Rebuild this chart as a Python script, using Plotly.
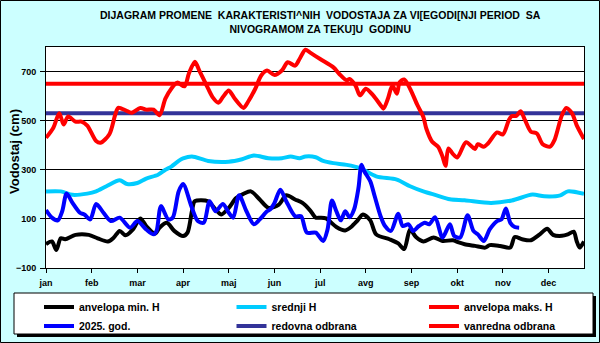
import plotly.graph_objects as go

# ---------------- data (day of year 0..365, water level in cm) ----------------
months = ["jan", "feb", "mar", "apr", "maj", "jun", "jul", "avg", "sep", "okt", "nov", "dec"]
month_ticks = [0, 31, 62, 93, 124, 155, 186, 217, 248, 279, 310, 341]

max_days = [0, 5, 9, 12, 15, 20, 24, 28, 34, 37, 43, 47, 49, 54, 58, 64, 68, 73, 77, 81, 85, 89,
            94, 97, 101, 104, 109, 113, 117, 120, 124, 128, 134, 137, 142, 146, 150, 155, 160,
            164, 169, 172, 176, 179, 186, 195, 199, 204, 206, 210, 213, 217, 222, 227, 229, 232,
            235, 238, 240, 243, 247, 252, 256, 258, 262, 266, 269, 271, 273, 276, 279, 285, 291,
            293, 297, 300, 306, 310, 314, 316, 319, 322, 325, 329, 333, 337, 342, 345, 350, 353,
            357, 360, 365]
max_vals = [430, 471, 530, 484, 517, 496, 496, 480, 417, 410, 445, 525, 552, 542, 532, 552, 545,
            545, 522, 590, 630, 655, 640, 693, 740, 704, 643, 596, 573, 596, 623, 590, 552, 576,
            630, 684, 704, 686, 704, 738, 724, 751, 789, 778, 751, 717, 690, 664, 670, 643, 603,
            630, 603, 563, 549, 590, 643, 610, 657, 668, 630, 563, 515, 468, 414, 394, 354, 316,
            387, 365, 350, 412, 385, 404, 394, 408, 452, 444, 502, 519, 519, 538, 502, 455, 448,
            404, 394, 421, 522, 552, 529, 482, 425]

mean_days = [0, 10, 18, 28, 34, 41, 50, 55, 62, 68, 76, 81, 85, 90, 93, 99, 110, 124, 133, 141,
             151, 160, 166, 172, 176, 183, 188, 195, 204, 213, 224, 238, 247, 256, 265, 274, 284,
             302, 316, 330, 338, 349, 354, 365]
mean_vals = [212, 212, 198, 203, 212, 233, 257, 242, 246, 264, 280, 300, 313, 336, 346, 354, 336,
             333, 343, 358, 347, 347, 354, 347, 354, 351, 336, 327, 320, 307, 273, 260, 233, 212,
             196, 180, 176, 165, 175, 199, 192, 196, 212, 202]

min_days = [0, 4, 7, 10, 13, 20, 29, 35, 42, 46, 50, 54, 59, 64, 68, 74, 77, 82, 87, 93, 96, 99,
            101, 110, 115, 119, 124, 129, 134, 139, 145, 151, 158, 163, 169, 174, 179, 183, 186,
            190, 197, 203, 207, 211, 215, 220, 224, 233, 239, 243, 247, 251, 256, 263, 269, 276,
            280, 284, 291, 298, 301, 308, 315, 318, 323, 329, 335, 340, 344, 350, 354, 358, 360,
            362, 365]
min_vals = [-3, 8, -27, 21, 17, 35, 35, 21, 8, 24, 51, 33, 57, 102, 71, 40, 64, 84, 51, 30, 44,
            131, 172, 172, 138, 118, 145, 185, 202, 212, 179, 145, 158, 196, 179, 165, 136, 105,
            105, 102, 67, 53, 67, 91, 118, 94, 37, 17, 0, -23, 57, 26, 8, 24, 10, 13, 4, -3, -10,
            -17, -7, -10, -17, 26, 17, 13, 37, 60, 35, 31, 37, 48, 10, -17, 8]

cur_days = [0, 4, 8, 11, 14, 18, 23, 26, 30, 34, 39, 44, 50, 57, 62, 68, 73, 75, 78, 83, 86, 90,
            93, 99, 103, 107, 111, 115, 120, 124, 127, 131, 136, 141, 145, 150, 152, 155, 159,
            163, 169, 173, 177, 183, 188, 191, 194, 197, 200, 203, 206, 209, 212, 214, 216, 220,
            223, 227, 230, 234, 239, 242, 246, 249, 253, 257, 260, 264, 269, 274, 277, 281, 286,
            290, 293, 297, 301, 306, 309, 312, 315, 318, 321]
cur_vals = [136, 105, 94, 131, 203, 165, 125, 118, 98, 161, 125, 91, 105, 64, 91, 57, 37, 51, 152,
            98, 105, 212, 242, 145, 91, 84, 172, 131, 161, 125, 105, 196, 131, 78, 98, 131, 138,
            165, 219, 172, 111, 111, 44, 44, 10, 57, 175, 131, 94, 131, 107, 138, 226, 320, 293,
            253, 192, 111, 71, 51, 121, 71, 78, 51, 71, 84, 78, 107, 24, 78, 30, 24, 115, 51, 37,
            10, 57, 91, 98, 142, 84, 67, 64]

redovna = 530
vanredna = 650
level_days = [0, 365]

names = ["anvelopa min. H", "srednji H", "anvelopa maks. H",
         "2025. god.", "redovna odbrana", "vanredna odbrana"]
colors = ["#000000", "#00CCFF", "#FF0000", "#0000FF", "#333399", "#FF0000"]

# ---------------- geometry helpers (pixels -> paper) ----------------
L, R, T, B = 46, 16, 47, 75
W, H = 600, 343
PW, PH = W - L - R, H - T - B


def px(x):
    return (x - L) / PW


def py(y):
    return (H - B - y) / PH


fig = go.Figure()
LW = 4

fig.add_trace(go.Scatter(x=level_days, y=[redovna, redovna], mode="lines", name=names[4],
                         line=dict(color=colors[4], width=LW), legendrank=5))
fig.add_trace(go.Scatter(x=level_days, y=[vanredna, vanredna], mode="lines", name=names[5],
                         line=dict(color=colors[5], width=LW), legendrank=6))
fig.add_trace(go.Scatter(x=mean_days, y=mean_vals, mode="lines", name=names[1],
                         line=dict(color=colors[1], width=LW, shape="spline", smoothing=0.8),
                         legendrank=2))
fig.add_trace(go.Scatter(x=min_days, y=min_vals, mode="lines", name=names[0],
                         line=dict(color=colors[0], width=LW, shape="spline", smoothing=0.8),
                         legendrank=1))
fig.add_trace(go.Scatter(x=max_days, y=max_vals, mode="lines", name=names[2],
                         line=dict(color=colors[2], width=LW, shape="spline", smoothing=0.8),
                         legendrank=3))
fig.add_trace(go.Scatter(x=cur_days, y=cur_vals, mode="lines", name=names[3],
                         line=dict(color=colors[3], width=LW, shape="spline", smoothing=0.8),
                         legendrank=4))

FONT = "Liberation Sans, Arial, sans-serif"

shapes = [
    # outer chart border
    dict(type="rect", xref="paper", yref="paper", x0=px(0.5), x1=px(599.5), y0=py(342.5), y1=py(0.5),
         line=dict(color="black", width=1), fillcolor="rgba(0,0,0,0)", layer="below"),
    # legend shadow
    dict(type="rect", xref="paper", yref="paper", x0=px(17), x1=px(596), y0=py(337), y1=py(296),
         line=dict(width=0), fillcolor="black", layer="above"),
    # legend box
    dict(type="rect", xref="paper", yref="paper", x0=px(14), x1=px(593), y0=py(334), y1=py(293),
         line=dict(color="black", width=1), fillcolor="white", layer="above"),
]

annotations = [
    dict(text="DIJAGRAM PROMENE&nbsp; KARAKTERISTI^NIH&nbsp; VODOSTAJA ZA VI[EGODI[NJI PERIOD&nbsp; SA"
              "<br>NIVOGRAMOM ZA TEKU]U&nbsp; GODINU",
         xref="paper", yref="paper", x=px(320), y=py(22.5), xanchor="center", yanchor="middle",
         showarrow=False, font=dict(family=FONT, size=10.5, color="black", weight="bold"),
         align="center"),
    dict(text="Vodostaj (cm)", xref="paper", yref="paper", x=px(14), y=py(152),
         xanchor="center", yanchor="middle", textangle=-90, showarrow=False,
         font=dict(family=FONT, size=13, color="black", weight="bold")),
]

fig.update_layout(
    width=W, height=H,
    margin=dict(l=L, r=R, t=T, b=B, autoexpand=False),
    paper_bgcolor="#CCFFFF",
    plot_bgcolor="white",
    font=dict(family=FONT, size=9, color="black"),
    shapes=shapes,
    annotations=annotations,
    showlegend=True,
    legend=dict(orientation="h", x=px(39), y=py(292.5), xanchor="left", yanchor="top",
                bgcolor="rgba(0,0,0,0)", borderwidth=0, entrywidth=147.5, entrywidthmode="pixels",
                itemwidth=30, tracegroupgap=0, maxheight=120,
                font=dict(family=FONT, size=10.5, color="black", weight="bold")),
    xaxis=dict(range=[0, 365], tickvals=month_ticks, ticktext=months, ticks="outside", ticklen=4,
               tickcolor="black", showgrid=False, zeroline=False, showline=True, linecolor="black",
               linewidth=1, mirror=True, ticklabelstandoff=2,
               tickfont=dict(family=FONT, size=9, weight="bold")),
    yaxis=dict(range=[-100, 800], tickvals=[-100, 100, 300, 500, 700], ticks="outside", ticklen=5,
               tickcolor="black", showgrid=True, gridcolor="black", gridwidth=1, zeroline=False,
               showline=True, linecolor="black", linewidth=1, mirror=True, ticklabelstandoff=2,
               tickfont=dict(family=FONT, size=9, weight="bold")),
)

fig.write_html("out.html")
